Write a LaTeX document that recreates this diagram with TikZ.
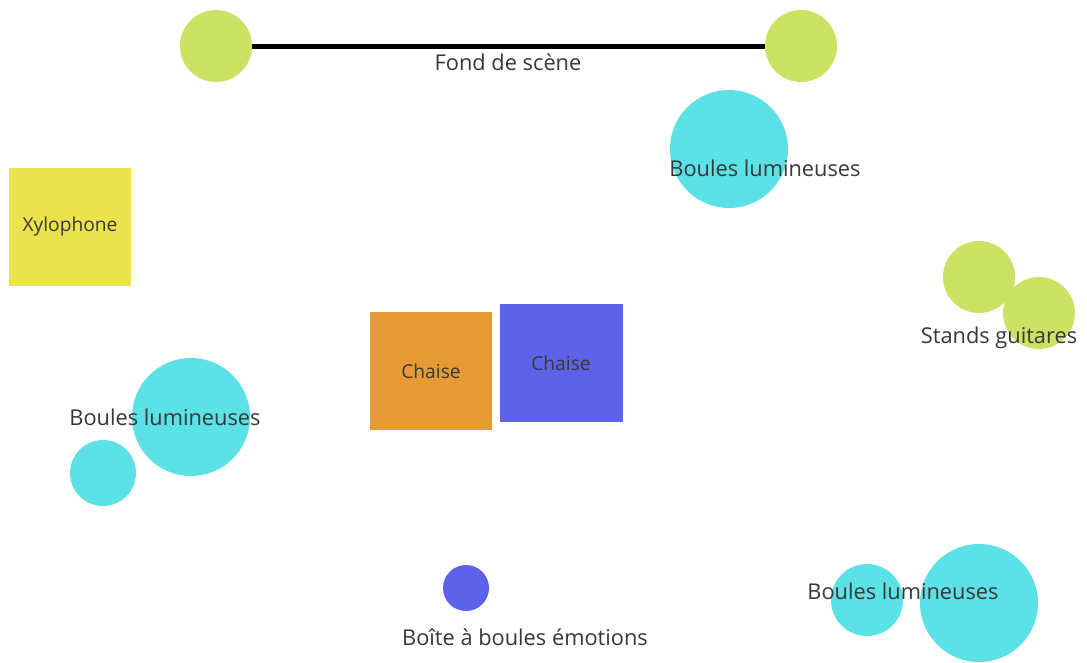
\documentclass[tikz,border=0pt]{standalone}
\usepackage{fontspec}
\setmainfont{Open Sans}
\begin{document}
\begin{tikzpicture}[x=1pt,y=-1pt,
  lbl/.style={text=black!78, font=\fontsize{21.8}{26}\selectfont, inner sep=0pt},
  slbl/.style={text=black!78, font=\fontsize{19.2}{23}\selectfont, inner sep=0pt},
  disc/.style={circle, fill=#1, draw=none, inner sep=0pt},
  sq/.style={rectangle, fill=#1, draw=none, inner sep=0pt}]
\definecolor{vgreen}{HTML}{CBE265}
\definecolor{vcyan}{HTML}{5CE1E6}
\definecolor{vyellow}{HTML}{EBE34E}
\definecolor{vorange}{HTML}{E59A35}
\definecolor{vblue}{HTML}{5D62E8}
\useasboundingbox[fill=white] (0,0) rectangle (1087,662);
% Fond de scene
\node[disc=vgreen, minimum size=72pt] (gl) at (216,46) {};
\node[disc=vgreen, minimum size=72pt] (gr) at (801,46) {};
\draw[line width=5pt] (gl.east) -- (gr.west);
\node[lbl] (fond) at (508,62) {Fond de scène};
% top cyan
\node[disc=vcyan, minimum size=118pt] (c1) at (729,149) {};
\node[lbl] (l1) at (765,168) {Boules lumineuses};
% xylophone
\node[sq=vyellow, minimum width=122pt, minimum height=118pt] (xy) at (70,227) {};
\node[slbl] (xyl) at (70,227) {Xylophone};
% chaises
\node[sq=vorange, minimum width=122pt, minimum height=118pt] (ch1) at (431,371) {};
\node[slbl] (ch1l) at (431,371) {Chaise};
\node[sq=vblue, minimum width=123pt, minimum height=118pt] (ch2) at (561.5,363) {};
\node[slbl] (ch2l) at (561,363) {Chaise};
% stands guitares
\node[disc=vgreen, minimum size=72pt] (s1) at (979,277) {};
\node[disc=vgreen, minimum size=72pt] (s2) at (1039,313) {};
\node[lbl] (sl) at (999,338) {Stands guitares};
% left cyan
\node[disc=vcyan, minimum size=118pt] (c2) at (191,417) {};
\node[disc=vcyan, minimum size=66pt] (c3) at (103,473) {};
\node[lbl] (l2) at (165,417) {Boules lumineuses};
% box
\node[disc=vblue, minimum size=46pt] (bx) at (466,588) {};
\node[lbl] (bxl) at (525,637) {Boîte à boules émotions};
% bottom right cyan
\node[disc=vcyan, minimum size=72pt] (c4) at (867,600) {};
\node[disc=vcyan, minimum size=118pt] (c5) at (979,603) {};
\node[lbl] (l3) at (903,591) {Boules lumineuses};
\end{tikzpicture}
\end{document}
